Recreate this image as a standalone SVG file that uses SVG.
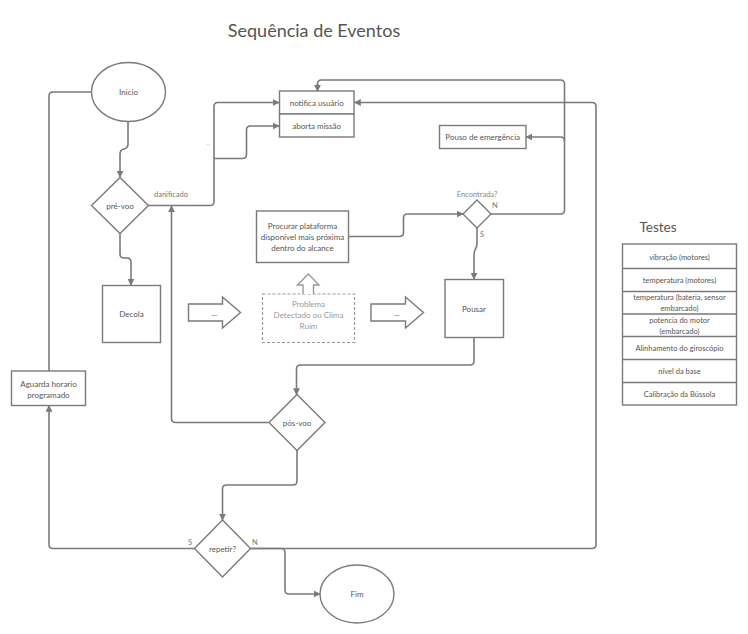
<svg xmlns="http://www.w3.org/2000/svg" width="748" height="634" viewBox="0 0 748 634">
<defs>
<marker id="ah" viewBox="0 0 10 10" refX="9" refY="5" markerWidth="7" markerHeight="7" markerUnits="userSpaceOnUse" orient="auto">
<path d="M0,0 L10,5 L0,10 z" fill="#7a7a7a"/>
</marker>
<style>
.shape{fill:#fff;stroke:#7a7a7a;stroke-width:1.4}
.dash{fill:#fff;stroke:#999;stroke-width:1.2;stroke-dasharray:3 2}
.conn{fill:none;stroke:#7a7a7a;stroke-width:1.6}
.arr{marker-end:url(#ah)}
text{font-family:Lato,"Open Sans","Liberation Sans",sans-serif;fill:#555;font-size:8px;text-anchor:middle;dominant-baseline:central}
.lt{fill:#999}
.lbl{font-size:7.5px;fill:#777;text-anchor:start}
</style>
</defs>
<rect width="748" height="634" fill="#fff"/>
<text x="314" y="30" style="font-size:18px;fill:#555">Sequência de Eventos</text>
<text x="658" y="227" style="font-size:13.5px;fill:#555">Testes</text>

<g id="connectors">
<path class="conn arr" d="M128,121 V144 Q128,148 124,149 Q120,150 120,154 V177"/>
<path class="conn" d="M92,92 H53 Q49,92 49,96 V371"/>
<path class="conn arr" d="M148,205.5 H210 Q214,205.5 214,201.5 V106.5 Q214,102.5 218,102.5 H279"/>
<path class="conn arr" d="M214,158.5 H242.5 Q246.5,158.5 246.5,154.5 V130 Q246.5,126 250.5,126 H279"/>
<path class="conn arr" d="M120,233.5 V254 Q120,258 124,258 H127 Q131,258 131,262 V285"/>
<path class="conn arr" d="M268.5,422.5 H175.5 Q171.5,422.5 171.5,418.5 V206"/>
<path class="conn arr" d="M474,337.5 V361 Q474,365 470,365 H300.5 Q296.5,365 296.5,369 V394.5"/>
<path class="conn arr" d="M297,450 V481 Q297,485 293,485 H226.5 Q222.5,485 222.5,489 V520"/>
<path class="conn arr" d="M194.5,548.5 H53 Q49,548.5 49,544.5 V405.5"/>
<path class="conn arr" d="M250.5,548.5 H281 Q285,548.5 285,552.5 V590 Q285,594 289,594 H320"/>
<path class="conn arr" d="M250.5,548.5 H592 Q596,548.5 596,544.5 V106.5 Q596,102.5 592,102.5 H354.5"/>
<path class="conn arr" d="M348.5,236.5 H399.5 Q403.5,236.5 403.5,232.5 V218 Q403.5,214 407.5,214 H463"/>
<path class="conn arr" d="M477,228 V243 Q477,247 475.5,249 Q474,251 474,255 V279"/>
<path class="conn" d="M491,214 H560.5 Q564.5,214 564.5,210 V84 Q564.5,80 560.5,80 H321.5 Q317.5,80 317.5,84 V91" />
<path class="conn arr" d="M317.5,84 V91"/>
<path class="conn arr" d="M564.5,141 Q564.5,137 560.5,137 H526"/>
</g>

<g id="inicio"><ellipse class="shape" cx="128.5" cy="92" rx="37" ry="29.5"/><text x="128.5" y="92">Inicio</text></g>
<g id="pre-voo"><path class="shape" d="M120,177.5 L148.5,205.5 L120,233.5 L91.5,205.5 z"/><text x="120" y="205.5">pré-voo</text></g>
<text class="lbl" x="154" y="194">danificado</text>
<text x="208" y="142" style="font-size:8px;fill:#999">.</text>
<g id="notifica"><rect class="shape" x="279.5" y="91" width="74.5" height="23"/><text x="316.7" y="102.5">notifica usuário</text></g>
<g id="aborta"><rect class="shape" x="279.5" y="114" width="74.5" height="23"/><text x="316.7" y="125.5">aborta missão</text></g>
<g id="pouso-emergencia"><rect class="shape" x="439.5" y="125.5" width="86.5" height="23"/><text x="482.7" y="137">Pouso de emergência</text></g>
<g id="procurar"><rect class="shape" x="256.5" y="211" width="92" height="51.5"/>
<text x="302.5" y="226">Procurar plataforma</text><text x="302.5" y="237">disponível mais próxima</text><text x="302.5" y="248">dentro do alcance</text></g>
<g id="encontrada"><path class="shape" d="M477,200 L491,214 L477,228 L463,214 z"/></g>
<text x="477" y="194" class="lt" style="font-size:7.5px;fill:#888">Encontrada?</text>
<text class="lbl" x="492" y="205">N</text>
<text class="lbl" x="480" y="234">S</text>
<g id="decola"><rect class="shape" x="102.5" y="285.5" width="58" height="57"/><text x="131.5" y="314">Decola</text></g>
<g id="seta1"><path class="shape" d="M188.5,304 H222.5 V297 L240.5,312.5 L222.5,328 V321 H188.5 z"/><text x="214" y="313">...</text></g>
<g id="problema"><rect class="dash" x="262.5" y="294" width="92" height="48.5"/>
<text class="lt" x="308.5" y="303.5">Problema</text><text class="lt" x="308.5" y="314.5">Detectado ou Clima</text><text class="lt" x="308.5" y="325.5">Ruim</text></g>
<g id="seta-cima"><path class="shape" d="M303,294 V285 H297.5 L308.3,274 L319,285 H313.5 V294" style="stroke:#999"/></g>
<g id="seta2"><path class="shape" d="M371,304 H405.5 V297 L423.5,312.5 L405.5,328 V321 H371 z"/><text x="397" y="313">...</text></g>
<g id="pousar"><rect class="shape" x="445" y="279.5" width="58.5" height="58"/><text x="474" y="309">Pousar</text></g>
<g id="pos-voo"><path class="shape" d="M297,394.5 L325,422.5 L297,450.5 L269,422.5 z"/><text x="297" y="422.5">pós-voo</text></g>
<g id="aguarda"><rect class="shape" x="11.5" y="371" width="74" height="34.5"/><text x="48.5" y="384">Aguarda horario</text><text x="48.5" y="394.5">programado</text></g>
<g id="repetir"><path class="shape" d="M222.5,520 L250.5,548.5 L222.5,577 L194.5,548.5 z"/><text x="222.5" y="548.5">repetir?</text></g>
<text class="lbl" x="188" y="542.5">S</text>
<text class="lbl" x="252" y="542.5">N</text>
<g id="fim"><ellipse class="shape" cx="357" cy="594" rx="37" ry="29"/><text x="357" y="594">Fim</text></g>

<g id="testes">
<rect class="shape" x="622.5" y="244" width="114" height="161"/>
<path d="M622.5,268.5 H736.5 M622.5,291.5 H736.5 M622.5,314 H736.5 M622.5,336.5 H736.5 M622.5,359.5 H736.5 M622.5,382.5 H736.5" stroke="#7a7a7a" stroke-width="1.4" fill="none"/>
<text x="679.5" y="257" style="font-size:7.5px">vibração (motores)</text>
<text x="679.5" y="280" style="font-size:7.5px">temperatura (motores)</text>
<text x="679.5" y="297.5" style="font-size:7.5px">temperatura (bateria, sensor</text>
<text x="679.5" y="308.5" style="font-size:7.5px">embarcado)</text>
<text x="679.5" y="320" style="font-size:7.5px">potencia do motor</text>
<text x="679.5" y="331" style="font-size:7.5px">(embarcado)</text>
<text x="679.5" y="348.5" style="font-size:7.5px">Alinhamento do giroscópio</text>
<text x="679.5" y="371.5" style="font-size:7.5px">nível da base</text>
<text x="679.5" y="394.5" style="font-size:7.5px">Calibração da Bússola</text>
</g>
</svg>
